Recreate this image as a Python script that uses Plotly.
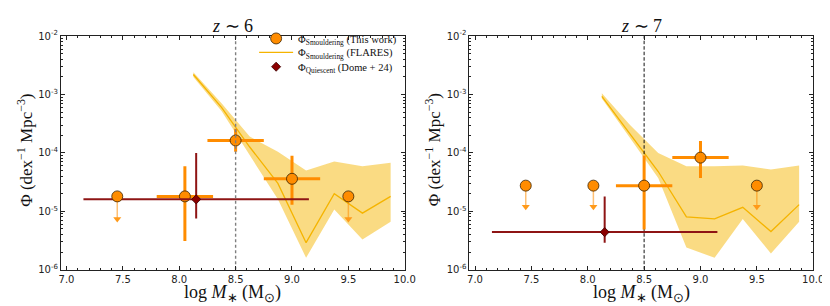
import plotly.graph_objects as go

# ---------------- data ----------------
flares_mass = [8.125, 8.375, 8.625, 8.875, 9.125, 9.375, 9.625, 9.875]

# z ~ 6
z6_flares = [2.2e-3, 6.0e-4, 1.26e-4, 3.0e-5, 2.9e-6, 2.0e-5, 9.3e-6, 1.8e-5]
z6_flares_hi = [2.4e-3, 7.1e-4, 1.9e-4, 1.05e-4, 5.0e-5, 7.1e-5, 5.9e-5, 6.8e-5]
z6_flares_lo = [2.0e-3, 5.2e-4, 9.0e-5, 1.6e-5, 1.6e-6, 1.07e-5, 3.3e-6, 6.6e-6]

z6_det_mass = [8.05, 8.5, 9.0]
z6_det_phi = [1.8e-5, 1.63e-4, 3.6e-5]
z6_det_hi = [5.9e-5, 2.6e-4, 8.9e-5]
z6_det_lo = [3.1e-6, 1.05e-4, 1.3e-5]
z6_det_mlo = [7.8, 8.25, 8.75]
z6_det_mhi = [8.3, 8.75, 9.25]

z6_ul_mass = [7.45, 9.5]
z6_ul_phi = [1.8e-5, 1.8e-5]
z6_ul_end = [7.4e-6, 7.4e-6]

z6_q_mass = [8.15]
z6_q_phi = [1.6e-5]
z6_q_hi = [1.0e-4]
z6_q_lo = [7.5e-6]
z6_q_mlo = [7.15]
z6_q_mhi = [9.15]

# z ~ 7
z7_flares = [9.3e-4, 2.1e-4, 4.8e-5, 8.0e-6, 7.4e-6, 1.17e-5, 4.5e-6, 1.3e-5]
z7_flares_hi = [1.05e-3, 3.0e-4, 1.0e-4, 5.9e-5, 5.9e-5, 6.1e-5, 5.2e-5, 6.1e-5]
z7_flares_lo = [8.5e-4, 1.8e-4, 3.7e-5, 2.4e-6, 1.6e-6, 7.4e-6, 1.9e-6, 6.6e-6]

z7_det_mass = [8.5, 9.0]
z7_det_phi = [2.75e-5, 8.3e-5]
z7_det_hi = [9.0e-5, 1.6e-4]
z7_det_lo = [4.9e-6, 3.7e-5]
z7_det_mlo = [8.25, 8.75]
z7_det_mhi = [8.75, 9.25]

z7_ul_mass = [7.45, 8.05, 9.5]
z7_ul_phi = [2.75e-5, 2.75e-5, 2.75e-5]
z7_ul_end = [1.2e-5, 1.2e-5, 1.2e-5]

z7_q_mass = [8.15]
z7_q_phi = [4.4e-6]
z7_q_hi = [1.8e-5]
z7_q_lo = [2.9e-6]
z7_q_mlo = [7.15]
z7_q_mhi = [9.15]

x_ticks = [7.0, 7.5, 8.0, 8.5, 9.0, 9.5, 10.0]
y_ticks = [1e-6, 1e-5, 1e-4, 1e-3, 1e-2]
y_ticktext = ["10<sup>-6</sup>", "10<sup>-5</sup>", "10<sup>-4</sup>", "10<sup>-3</sup>", "10<sup>-2</sup>"]
titles = ["<i>z</i> ∼ 6", "<i>z</i> ∼ 7"]
legend_names = ["Φ<sub>Smouldering</sub> (This work)",
                "Φ<sub>Smouldering</sub> (FLARES)",
                "Φ<sub>Quiescent</sub> (Dome + 24)"]

# ---------------- styles ----------------
ORANGE = "#FF8C00"
ORANGE_EDGE = "#3a2200"
DARKRED = "#8B0000"
BAND = "rgba(245,190,30,0.55)"
LINE = "#F5B400"
SERIF = "Liberation Serif"
SANS = "DejaVu Sans"

W, H = 830, 306
fig = go.Figure()


def add_panel(k, flares, fhi, flo, dm, dp, dhi, dlo, dmlo, dmhi,
              um, up, ue, qm, qp, qhi, qlo, qmlo, qmhi, vcolor, vwidth, vdash, vfirst):
    xa = "x" if k == 1 else "x2"
    ya = "y" if k == 1 else "y2"
    show = k == 1
    # band
    fig.add_trace(go.Scatter(x=flares_mass + flares_mass[::-1], y=fhi + flo[::-1],
                             fill="toself", fillcolor=BAND, line=dict(width=0),
                             mode="lines", hoverinfo="skip", showlegend=False,
                             xaxis=xa, yaxis=ya))
    fig.add_trace(go.Scatter(x=flares_mass, y=flares, mode="lines",
                             line=dict(color=LINE, width=1.3),
                             name=legend_names[1], legend="legend2",
                             showlegend=show, xaxis=xa, yaxis=ya))

    def vline():
        fig.add_trace(go.Scatter(x=[8.5, 8.5], y=[1e-6, 1e-2], mode="lines",
                                 line=dict(color=vcolor, width=vwidth, dash=vdash),
                                 showlegend=False, hoverinfo="skip", xaxis=xa, yaxis=ya))
    if vfirst:
        vline()
    # detections
    fig.add_trace(go.Scatter(
        x=dm, y=dp, mode="markers",
        marker=dict(size=11, color=ORANGE, line=dict(color=ORANGE_EDGE, width=0.8)),
        error_y=dict(type="data", symmetric=False,
                     array=[h - p for h, p in zip(dhi, dp)],
                     arrayminus=[p - l for p, l in zip(dp, dlo)],
                     color=ORANGE, thickness=3, width=0),
        error_x=dict(type="data", symmetric=False,
                     array=[h - m for h, m in zip(dmhi, dm)],
                     arrayminus=[m - l for m, l in zip(dm, dmlo)],
                     color=ORANGE, thickness=3, width=0),
        name=legend_names[0], legend="legend", showlegend=show,
        xaxis=xa, yaxis=ya))
    # quiescent
    fig.add_trace(go.Scatter(
        x=qm, y=qp, mode="markers",
        marker=dict(size=7, symbol="diamond", color=DARKRED, line=dict(color="#3a0000", width=0.8)),
        error_y=dict(type="data", symmetric=False,
                     array=[h - p for h, p in zip(qhi, qp)],
                     arrayminus=[p - l for p, l in zip(qp, qlo)],
                     color="#8E1414", thickness=2, width=0),
        error_x=dict(type="data", symmetric=False,
                     array=[h - m for h, m in zip(qmhi, qm)],
                     arrayminus=[m - l for m, l in zip(qm, qmlo)],
                     color="#8E1414", thickness=2, width=0),
        name=legend_names[2], legend="legend3", showlegend=show,
        xaxis=xa, yaxis=ya))
    # upper limits: stems, heads, circles
    sx, sy = [], []
    for m, p, e in zip(um, up, ue):
        sx += [m, m, None]
        sy += [p, e, None]
    fig.add_trace(go.Scatter(x=sx, y=sy, mode="lines",
                             line=dict(color="rgba(255,140,0,0.55)", width=1.5),
                             showlegend=False, hoverinfo="skip", xaxis=xa, yaxis=ya))
    fig.add_trace(go.Scatter(x=um, y=ue, mode="markers",
                             marker=dict(symbol="triangle-down", size=7, color="#FF9A1A",
                                         line=dict(width=0)),
                             showlegend=False, hoverinfo="skip", xaxis=xa, yaxis=ya))
    fig.add_trace(go.Scatter(x=um, y=up, mode="markers",
                             marker=dict(size=11, color=ORANGE, line=dict(color=ORANGE_EDGE, width=0.8)),
                             showlegend=False, xaxis=xa, yaxis=ya))
    if not vfirst:
        vline()


add_panel(1, z6_flares, z6_flares_hi, z6_flares_lo, z6_det_mass, z6_det_phi, z6_det_hi, z6_det_lo,
          z6_det_mlo, z6_det_mhi, z6_ul_mass, z6_ul_phi, z6_ul_end,
          z6_q_mass, z6_q_phi, z6_q_hi, z6_q_lo, z6_q_mlo, z6_q_mhi,
          "#7f7f7f", 1.4, "3px,2.5px", False)
add_panel(2, z7_flares, z7_flares_hi, z7_flares_lo, z7_det_mass, z7_det_phi, z7_det_hi, z7_det_lo,
          z7_det_mlo, z7_det_mhi, z7_ul_mass, z7_ul_phi, z7_ul_end,
          z7_q_mass, z7_q_phi, z7_q_hi, z7_q_lo, z7_q_mlo, z7_q_mhi,
          "#111111", 1.0, "3.5px,2px", True)

xdom = [[51.7 / W, 401 / W], [466.7 / W, 816 / W]]
ydom = [1 - 266 / H, 1 - 22 / H]

axis_common = dict(showline=True, linecolor="#222", linewidth=1, mirror="allticks",
                   ticks="inside", ticklen=4, tickwidth=0.8, tickcolor="#222",
                   showgrid=False, zeroline=False,
                   tickfont=dict(family=SANS, size=10, color="#222"))
for i in (1, 2):
    sfx = "" if i == 1 else str(i)
    fig.layout["xaxis" + sfx] = dict(
        axis_common, domain=xdom[i - 1], range=[6.95, 10.0], tickvals=x_ticks,
        ticktext=[f"{v:.1f}" for v in x_ticks], anchor="y" + sfx, ticklabelstandoff=0,
        minor=dict(ticks="inside", ticklen=2, tickwidth=0.7, tickcolor="#222", dtick=0.1, tick0=7.0))
    fig.layout["yaxis" + sfx] = dict(
        axis_common, domain=ydom, type="log", range=[-6, -2], tickvals=y_ticks,
        ticktext=y_ticktext, anchor="x" + sfx,
        minor=dict(ticks="inside", ticklen=2, tickwidth=0.7, tickcolor="#222", dtick="D1"))

ann = []
for i in (0, 1):
    cx = (xdom[i][0] + xdom[i][1]) / 2
    ann.append(dict(text=titles[i], x=cx, y=1 - 12 / H, xref="paper", yref="paper",
                    showarrow=False, font=dict(family=SERIF, size=18, color="#111"),
                    xanchor="center", yanchor="middle"))
    ann.append(dict(text="log <i>M</i><sub>∗</sub> (M<sub>⊙</sub>)", x=cx, y=1 - 291 / H,
                    xref="paper", yref="paper", showarrow=False,
                    font=dict(family=SERIF, size=18, color="#111"),
                    xanchor="center", yanchor="middle"))
    ann.append(dict(text="Φ (dex<sup>−1</sup> Mpc<sup>−3</sup>)", x=(15 + 415 * i) / W, y=1 - 141 / H,
                    xref="paper", yref="paper", showarrow=False, textangle=-90,
                    font=dict(family=SERIF, size=17, color="#111"),
                    xanchor="center", yanchor="middle"))

leg_common = dict(x=248 / W, xanchor="left", yanchor="middle", bgcolor="rgba(0,0,0,0)",
                  font=dict(family=SERIF, size=10.5, color="#111"), itemwidth=34)
fig.update_layout(
    width=W, height=H, margin=dict(l=0, r=0, t=0, b=0),
    paper_bgcolor="white", plot_bgcolor="white",
    annotations=ann,
    legend=dict(leg_common, y=1 - 24.5 / H),
    legend2=dict(leg_common, y=1 - 39 / H),
    legend3=dict(leg_common, y=1 - 54 / H),
)

fig.write_html("out.html")
